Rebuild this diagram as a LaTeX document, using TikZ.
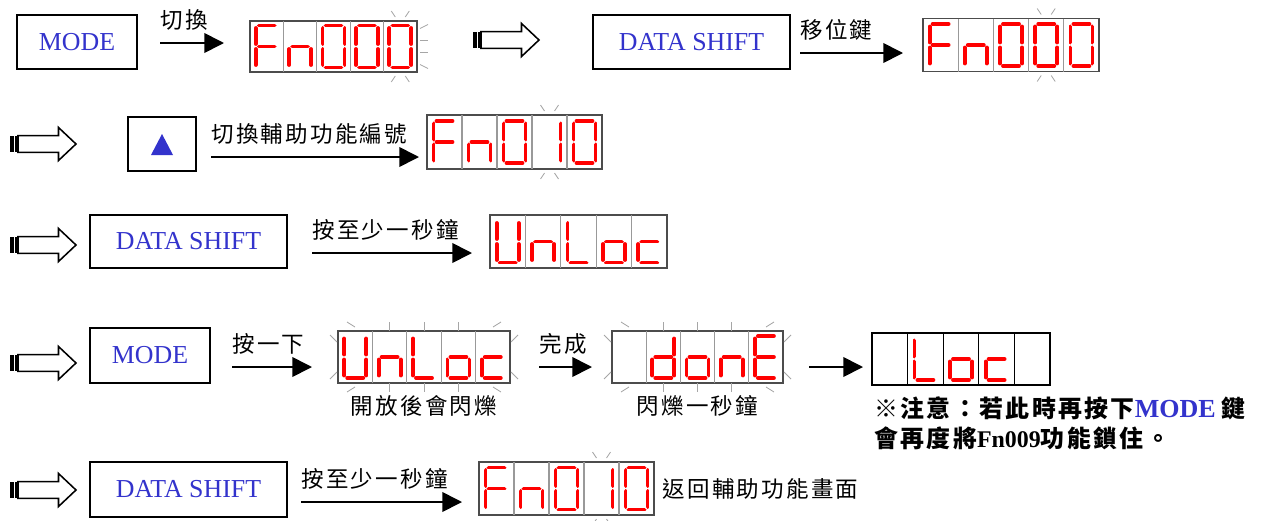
\documentclass[tikz,border=0pt]{standalone}
\usepackage{fontspec}
\setmainfont{Liberation Serif}
\newfontfamily\cjk[LetterSpace=10]{Noto Sans CJK TC}
\usetikzlibrary{arrows.meta, positioning, calc}

\definecolor{keyblue}{RGB}{51,51,204}
\definecolor{segred}{RGB}{255,0,0}

\def\pxu{0.025cm}

%% seven segment pieces, around the cell centre, y grows downwards
\newcommand{\sega}{\draw[seg] (-8,-21) -- (8,-21);}
\newcommand{\segb}{\draw[seg] (11,-18.5) -- (11,-2.5);}
\newcommand{\segc}{\draw[seg] (11,2.5) -- (11,18.5);}
\newcommand{\segd}{\draw[seg] (-8,21) -- (8,21);}
\newcommand{\sege}{\draw[seg] (-11,2.5) -- (-11,18.5);}
\newcommand{\segf}{\draw[seg] (-11,-18.5) -- (-11,-2.5);}
\newcommand{\segg}{\draw[seg] (-8,0) -- (8,0);}

%% which segments light up (O = zero, I = one, x = blank)
\def\digF{a,e,f,g}
\def\dign{c,e,g}
\def\digO{a,b,c,d,e,f}
\def\digI{b,c}
\def\digU{b,c,d,e,f}
\def\digL{d,e,f}
\def\digo{c,d,e,g}
\def\digc{d,e,g}
\def\digd{b,c,d,e,g}
\def\digE{a,d,e,f,g}
\def\digx{}

\newcommand{\lcd}[2]{%
  \begin{scope}[shift={(#1)}]
    \foreach \s in #2 {\csname seg\s\endcsname}
  \end{scope}}

%% name, left, top, cell width, height, digits
\newcommand{\panel}[6]{%
  \node[panel, anchor=north west, minimum width=5*#4*\pxu,
        minimum height=#5*\pxu] (#1) at (#2,#3) {};
  \foreach \dg [count=\i] in {#6}{
    \coordinate (#1-\i) at ($(#1.west)+({(\i-0.5)*#4},0)$);
    \ifnum\i>1
      \draw[divider] ($(#1.north west)+({(\i-1)*#4},0)$)
                  -- ($(#1.south west)+({(\i-1)*#4},0)$);
    \fi
    \edef\seglist{\csname dig\dg\endcsname}
    \lcd{#1-\i}{\seglist}
  }}

%% flashing marks round one cell
\newcommand{\blinkcell}[2]{%
  \draw[blink] ($(#1-#2 |- #1.north)+(-9,-10)$) -- ++(4,6);
  \draw[blink] ($(#1-#2 |- #1.north)+(9,-10)$) -- ++(-4,6);
  \draw[blink] ($(#1-#2 |- #1.south)+(-9,10)$) -- ++(4,-6);
  \draw[blink] ($(#1-#2 |- #1.south)+(9,10)$) -- ++(-4,-6);}

%% flashing marks round the whole panel
\newcommand{\blinkall}[1]{%
  \foreach \i in {2,3,4}{
    \draw[blink] (#1-\i |- #1.north) -- ++(0,-9);
    \draw[blink] (#1-\i |- #1.south) -- ++(0,9);
  }
  \draw[blink] ($(#1.north west)+(9,-9)$) -- ++(8,5);
  \draw[blink] ($(#1.north east)+(-9,-9)$) -- ++(-8,5);
  \draw[blink] ($(#1.south west)+(9,9)$) -- ++(8,-5);
  \draw[blink] ($(#1.south east)+(-9,9)$) -- ++(-8,-5);
  \draw[blink] ($(#1.north west)+(-8,4)$) -- ++(7,7);
  \draw[blink] ($(#1.south west)+(-8,-4)$) -- ++(7,-7);
  \draw[blink] ($(#1.north east)+(8,4)$) -- ++(-7,7);
  \draw[blink] ($(#1.south east)+(8,-4)$) -- ++(-7,-7);}

%% hollow "next step" arrow, tail at x, centre line at y
\newcommand{\fwd}[2]{%
  \begin{scope}[shift={(#1,#2)}]
    \fill (0,-8.3) rectangle (3.5,8.3);
    \fill (4.6,-8.3) rectangle (7.4,8.3);
    \draw[line width=1.1pt, fill=white] (8,-8.3) -- (48.5,-8.3) -- (48.5,-16.5)
      -- (66,0) -- (48.5,16.5) -- (48.5,8.3) -- (8,8.3) -- cycle;
  \end{scope}}

\begin{document}
\begin{tikzpicture}[x=0.025cm, y=-0.025cm,
  keybox/.style  = {draw, line width=1pt, inner sep=0pt, text=keyblue,
                    font=\fontsize{18.4}{22}\selectfont},
  panel/.style   = {draw=black!70, line width=0.8pt, fill=white,
                    inner sep=0pt, outer sep=0pt},
  divider/.style = {draw=black!40, line width=0.8pt},
  seg/.style     = {draw=segred, line width=0.095cm, line cap=round},
  blink/.style   = {draw=black!35, line width=0.6pt},
  flow/.style    = {-{Triangle[length=14pt, width=14pt]}, line width=1.2pt},
  lbl/.style     = {font=\cjk\fontsize{16}{18}\selectfont, inner sep=0pt},
  note/.style    = {font=\bfseries\fontsize{17}{21.3}\selectfont,
                    align=left, inner sep=0pt},
]
\useasboundingbox (0,0) rectangle (1274,520);

%% row 1
\node[keybox, minimum width=120*\pxu, minimum height=54*\pxu] (mode1) at (77,42) {MODE};
\coordinate (a1s) at (160,43);
\coordinate (a1e) at (224,43);
\draw[flow] (a1s) -- (a1e);
\node[lbl, above right=9pt and 0pt of a1s] (t1) {切換};
\panel{dA}{250}{21}{33.4}{51}{F,n,O,O,O}
\blinkcell{dA}{5}
\foreach \dy/\dd in {-18/-4, -6/0, 6/0, 18/4}
  \draw[blink] ($(dA.east)+(3,\dy)$) -- ++(8,\dd);

\fwd{473}{40}
\node[keybox, minimum width=197*\pxu, minimum height=54*\pxu] (shift1) at (691.5,42) {DATA SHIFT};
\coordinate (a2s) at (800,53);
\coordinate (a2e) at (903,53);
\draw[flow] (a2s) -- (a2e);
\node[lbl, above right=9pt and 0pt of a2s] (t2) {移位鍵};
\panel{dB}{923}{18.5}{35.2}{53}{F,n,O,O,O}
\blinkcell{dB}{4}

%% row 2
\fwd{10}{144}
\node[keybox, minimum width=68*\pxu, minimum height=54*\pxu] (up) at (162,144) {};
\fill[keyblue] ($(up.center)+(-11,11)$) -- ($(up.center)+(11,11)$)
  -- ($(up.center)+(0,-10)$) -- cycle;
\coordinate (a3s) at (211,157);
\coordinate (a3e) at (419,157);
\draw[flow] (a3s) -- (a3e);
\node[lbl, above right=9pt and 0pt of a3s] (t3) {切換輔助功能編號};
\panel{dC}{427}{115}{35}{54}{F,n,O,I,O}
\blinkcell{dC}{4}

%% row 3
\fwd{10}{245}
\node[keybox, minimum width=197*\pxu, minimum height=53*\pxu] (shift2) at (188.5,241.5) {DATA SHIFT};
\coordinate (a4s) at (312,253);
\coordinate (a4e) at (472,253);
\draw[flow] (a4s) -- (a4e);
\node[lbl, above right=9pt and 0pt of a4s] (t4) {按至少一秒鐘};
\panel{dD}{490}{215}{35.4}{53}{U,n,L,o,c}

%% row 4
\fwd{10}{363}
\node[keybox, minimum width=120*\pxu, minimum height=55*\pxu] (mode2) at (150,355.5) {MODE};
\coordinate (a5s) at (232,367);
\coordinate (a5e) at (312,367);
\draw[flow] (a5s) -- (a5e);
\node[lbl, above right=9pt and 0pt of a5s] (t5) {按一下};
\panel{dE}{338}{331}{34.4}{52}{U,n,L,o,c}
\blinkall{dE}
\node[lbl, below=9pt of dE] (capE) {開放後會閃爍};

\coordinate (a6s) at (539,367);
\coordinate (a6e) at (592,367);
\draw[flow] (a6s) -- (a6e);
\node[lbl, above right=9pt and 0pt of a6s] (t6) {完成};
\panel{dF}{612}{331}{34.2}{52}{x,d,o,n,E}
\blinkall{dF}
\node[lbl, below=9pt of dF] (capF) {閃爍一秒鐘};

\coordinate (a7s) at (809,367);
\coordinate (a7e) at (863,367);
\draw[flow] (a7s) -- (a7e);
{\tikzset{panel/.append style={draw=black}, divider/.append style={draw=black}}
 \panel{dG}{872}{333}{35.6}{52}{x,L,o,c,x}}

\node[note, anchor=north west] (note) at (874,396)
  {{\cjk ※注意：若此時再按下}\textcolor{keyblue}{\fontsize{18.5}{21.3}\selectfont MODE} {\cjk 鍵}\\
   {\cjk 會再度將}Fn009{\cjk 功能鎖住。}};

%% row 5
\fwd{10}{490}
\node[keybox, minimum width=197*\pxu, minimum height=55*\pxu] (shift3) at (188.5,489.5) {DATA SHIFT};
\coordinate (a8s) at (301,502);
\coordinate (a8e) at (462,502);
\draw[flow] (a8s) -- (a8e);
\node[lbl, above right=9pt and 0pt of a8s] (t8) {按至少一秒鐘};
\panel{dH}{479}{462}{35}{53}{F,n,O,I,O}
\blinkcell{dH}{4}
\node[lbl, right=6pt of dH] (back) {返回輔助功能畫面};

\end{tikzpicture}
\end{document}
